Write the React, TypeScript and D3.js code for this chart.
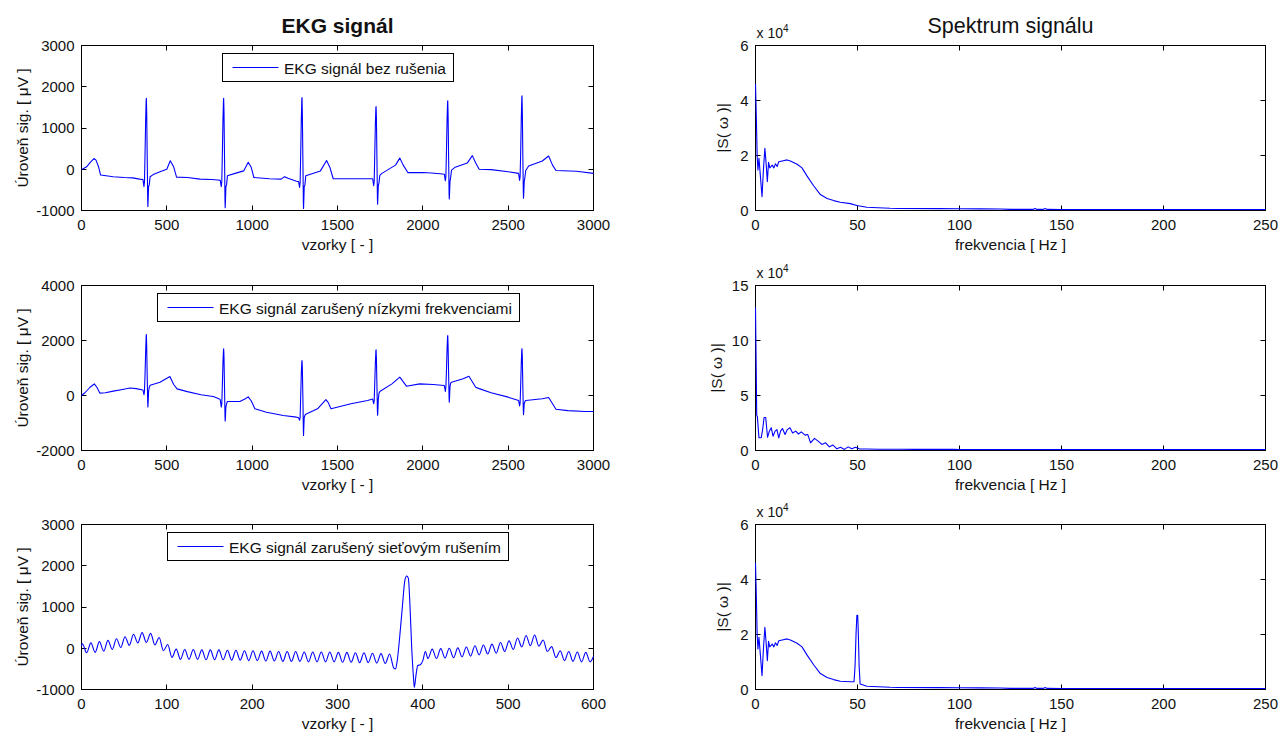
import React from 'react';
import * as d3 from 'd3';

const FONT = '"Liberation Sans", Arial, Helvetica, sans-serif';

// ---------- DATA ----------
// EKG without noise: [sample, µV]
const ekgCleanPoints: [number, number][] = [
  [0, 0], [10, 10], [30, 60], [50, 160], [73, 260], [85, 220], [100, 60], [112, -140], [186, -180], [250, -200], [300, -210], [340, -240],
  [360, -250], [366, -420], [369, -300], [372, 300], [376, 1200], [379, 1690], [380, 1720], [382, 1380], [385, 300], [388, -770], [389, -900], [391, -680], [393, -420], [397, -380], [402, -180],
  [420, -130], [460, -60], [500, 0], [520, 207], [540, 60], [557, -190], [620, -200], [695, -240], [760, -250], [800, -260], [813, -270],
  [819, -420], [822, -300], [825, 300], [829, 1200], [832, 1690], [833, 1720], [835, 1380], [838, 300], [841, -790], [842, -930], [844, -700], [846, -420], [850, -380], [855, -160],
  [900, -100], [950, -40], [977, 170], [995, 40], [1010, -200], [1100, -230], [1170, -240], [1190, -180], [1210, -220], [1260, -290], [1272, -300],
  [1278, -440], [1281, -320], [1284, 300], [1288, 1200], [1291, 1710], [1292, 1740], [1294, 1380], [1297, 300], [1300, -800], [1301, -950], [1303, -710], [1305, -420], [1309, -380], [1314, -160],
  [1400, -40], [1436, 210], [1455, 50], [1475, -230], [1600, -230], [1706, -230],
  [1712, -400], [1715, -300], [1718, 300], [1722, 1100], [1725, 1500], [1726, 1520], [1728, 1250], [1731, 300], [1734, -720], [1735, -850], [1737, -640], [1739, -400], [1743, -330], [1748, -150],
  [1760, -100], [1840, 100], [1865, 270], [1885, 100], [1913, -83], [2000, -80], [2050, -90], [2100, -110], [2126, -120],
  [2132, -280], [2135, -180], [2138, 350], [2142, 1200], [2145, 1640], [2146, 1660], [2148, 1330], [2151, 300], [2154, -600], [2155, -720], [2157, -540], [2159, -300], [2163, -200], [2168, -20],
  [2190, 50], [2260, 150], [2290, 330], [2310, 150], [2330, 0], [2400, -10], [2500, -60], [2561, -100],
  [2567, -270], [2570, -180], [2573, 350], [2577, 1250], [2580, 1750], [2581, 1780], [2583, 1420], [2586, 300], [2589, -580], [2590, -700], [2592, -520], [2594, -300], [2598, -200], [2603, -30],
  [2620, 80], [2700, 200], [2737, 321], [2760, 100], [2780, -30], [2900, -50], [3000, -100],
];

// EKG with low-frequency drift: [sample, µV]
const ekgLowFreqPoints: [number, number][] = [
  [0, 0], [20, 100], [50, 300], [75, 420], [90, 300], [108, 85], [140, 100], [186, 160], [240, 220], [284, 270], [320, 250], [360, 200],
  [366, 30], [369, 150], [372, 700], [376, 1600], [379, 2180], [380, 2220], [382, 1800], [385, 700], [388, -250], [389, -420], [391, -200], [393, 150], [397, 300], [402, 370],
  [460, 485], [518, 691], [540, 400], [560, 242], [620, 140], [700, 30], [772, -36], [805, -120], [813, -150],
  [819, -420], [822, -300], [825, 300], [829, 1200], [832, 1670], [833, 1700], [835, 1380], [838, 300], [841, -790], [842, -930], [844, -700], [846, -420], [850, -300], [855, -220],
  [928, -218], [960, -120], [977, -50], [995, -200], [1016, -484], [1084, -606], [1182, -727], [1260, -788], [1272, -810],
  [1278, -900], [1281, -800], [1284, -100], [1288, 800], [1291, 1250], [1292, 1270], [1294, 1000], [1297, 0], [1300, -1250], [1301, -1450], [1303, -1100], [1305, -800], [1309, -720], [1314, -680],
  [1383, -485], [1432, -150], [1445, -250], [1462, -485], [1579, -303], [1676, -180], [1706, -130],
  [1712, -300], [1715, -200], [1718, 400], [1722, 1200], [1725, 1640], [1726, 1660], [1728, 1350], [1731, 400], [1734, -600], [1735, -720], [1737, -500], [1739, -150], [1743, 80], [1748, 145],
  [1819, 424], [1865, 667], [1904, 339], [1982, 424], [2060, 400], [2126, 364],
  [2132, 150], [2135, 300], [2138, 800], [2142, 1700], [2145, 2150], [2146, 2180], [2148, 1800], [2151, 800], [2154, -100], [2155, -240], [2157, 0], [2159, 300], [2163, 450], [2168, 485],
  [2236, 606], [2270, 700], [2310, 303], [2330, 250], [2400, 100], [2500, -60], [2561, -180],
  [2567, -380], [2570, -280], [2573, 300], [2577, 1200], [2580, 1680], [2581, 1700], [2583, 1380], [2586, 300], [2589, -580], [2590, -700], [2592, -520], [2594, -300], [2598, -220], [2603, -180],
  [2700, -120], [2737, -70], [2760, -300], [2780, -500], [2850, -550], [2950, -580], [3000, -580],
];

// EKG with 50 Hz mains interference (first 600 samples): [sample, µV]
const ekgMainsPoints: [number, number][] = [
  [0, 60], [1, 110], [6, -110], [11, 130], [16, -100], [21, 160], [26, -70], [31, 190], [36, -30], [41, 230], [46, 20], [51, 280], [56, 70],
  [61, 340], [66, 130], [71, 380], [76, 140], [81, 360], [86, 80], [91, 260], [96, -60], [101, 90], [106, -220], [111, -20], [116, -270],
  [121, -30], [126, -270], [131, -30], [136, -270], [141, -40], [146, -280], [151, -40], [156, -280], [161, -40], [166, -280], [171, -50], [176, -290],
  [181, -50], [186, -290], [191, -60], [196, -300], [201, -60], [206, -300], [211, -70], [216, -310], [221, -70], [226, -310], [231, -80], [236, -320],
  [241, -80], [246, -320], [251, -80], [256, -320], [261, -90], [266, -330], [271, -90], [276, -330], [281, -90], [286, -330], [291, -90], [296, -330],
  [301, -100], [306, -340], [311, -100], [316, -340], [321, -110], [326, -350], [331, -110], [336, -350], [341, -120], [346, -360], [351, -130], [356, -370],
  [361, -140], [366, -480], [368, -500], [370, -300], [373, 300], [376, 1000], [379, 1650], [381, 1750], [383, 1700], [385, 1000], [387, 0], [389, -700],
  [390, -950], [392, -650], [394, -420], [397, -400], [400, -300], [403, -80], [406, -250], [411, -20], [416, -250], [421, -10], [426, -240], [431, 0],
  [436, -230], [441, 10], [446, -210], [451, 30], [456, -190], [461, 60], [466, -160], [471, 80], [476, -140], [481, 100], [486, -120], [491, 140],
  [496, -80], [501, 180], [506, -30], [511, 250], [516, 30], [521, 310], [526, 60], [531, 320], [536, 50], [541, 200], [546, -80], [551, 40],
  [556, -230], [561, -60], [566, -300], [571, -80], [576, -320], [581, -90], [586, -330], [591, -100], [596, -330], [600, -200],
];

// Spectra: [frequency Hz, |S| in units of 10^4]
const spectrumCleanPoints: [number, number][] = [
  [0, 4.6], [0.2, 4.0], [0.5, 3.1], [0.8, 2.0], [1.2, 1.47], [1.7, 1.9], [2.4, 1.25], [3.2, 0.5], [3.9, 1.5], [4.6, 2.26], [5.2, 1.72], [5.8, 1.05],
  [6.4, 1.75], [7.0, 1.55], [8.2, 1.65], [9.0, 1.55], [9.8, 1.7], [10.6, 1.6], [11.4, 1.77], [13.1, 1.8], [15.5, 1.84], [17.1, 1.8], [20.4, 1.68],
  [22.8, 1.55], [25.3, 1.25], [28.5, 0.9], [31.8, 0.58], [35.1, 0.44], [38.3, 0.36], [41.6, 0.3], [46.5, 0.25], [49.7, 0.18], [54.6, 0.12], [60, 0.1],
  [66, 0.08], [70, 0.075], [90, 0.07], [100, 0.065], [110, 0.06], [120, 0.055], [125, 0.04], [136, 0.04], [137, 0.07], [138, 0.04], [141, 0.04],
  [142, 0.07], [143, 0.04], [150, 0.035], [200, 0.035], [250, 0.035],
];

const spectrumLowFreqPoints: [number, number][] = [
  [0, 13.0], [0.3, 8.2], [0.6, 3.2], [0.9, 3.1], [1.7, 1.16], [2.8, 1.16], [3.5, 1.9], [4.2, 3.0], [5.0, 3.0], [5.9, 1.2], [6.8, 1.76], [7.7, 2.07],
  [8.6, 1.3], [9.6, 1.76], [10.5, 1.9], [11.4, 1.15], [12.3, 1.76], [13.2, 2.0], [14.5, 1.46], [15.6, 1.9], [16.9, 2.07], [18.2, 1.6], [19.7, 1.76],
  [21.1, 1.5], [22.4, 1.7], [24.3, 1.4], [25.6, 1.46], [27, 0.7], [28.9, 1.1], [30.7, 0.85], [32.5, 0.55], [34.4, 0.7], [36.2, 0.33], [38, 0.49],
  [39.9, 0.15], [41.7, 0.3], [43.6, 0.1], [45.4, 0.33], [47.2, 0.15], [49, 0.3], [50.9, 0.15], [54.6, 0.14], [60, 0.12], [71, 0.12], [78.5, 0.1],
  [97, 0.1], [100, 0.09], [250, 0.09],
];

const spectrumMainsPoints: [number, number][] = [
  [0, 4.6], [0.2, 4.0], [0.5, 3.1], [0.8, 2.0], [1.2, 1.47], [1.7, 1.9], [2.4, 1.25], [3.2, 0.5], [3.9, 1.5], [4.6, 2.26], [5.2, 1.72], [5.8, 1.05],
  [6.4, 1.75], [7.0, 1.55], [8.2, 1.65], [9.0, 1.55], [9.8, 1.7], [10.6, 1.6], [11.4, 1.77], [13.1, 1.8], [15.5, 1.84], [17.1, 1.8], [20.4, 1.68],
  [22.8, 1.55], [25.3, 1.25], [28.5, 0.9], [31.8, 0.58], [35.1, 0.44], [38.3, 0.36], [41.6, 0.3], [46.5, 0.28], [48.3, 0.28], [48.8, 0.85],
  [49.3, 2.05], [49.7, 2.7], [50.1, 2.7], [50.4, 2.05], [50.8, 0.85], [51.3, 0.2], [54.6, 0.12], [60, 0.1], [66, 0.08], [70, 0.075], [90, 0.07],
  [100, 0.065], [110, 0.06], [120, 0.055], [125, 0.04], [136, 0.04], [137, 0.07], [138, 0.04], [141, 0.04], [142, 0.07], [143, 0.04], [150, 0.035],
  [200, 0.035], [250, 0.035],
];

// Ticks
const ekgXTicks3000 = [0, 500, 1000, 1500, 2000, 2500, 3000];
const ekgXTicks600 = [0, 100, 200, 300, 400, 500, 600];
const ekgYTicksA = [-1000, 0, 1000, 2000, 3000];
const ekgYTicksB = [-2000, 0, 2000, 4000];
const freqTicks = [0, 50, 100, 150, 200, 250];
const specYTicksA = [0, 2, 4, 6];
const specYTicksB = [0, 5, 10, 15];

// Texts
const titleLeft = 'EKG signál';
const titleRight = 'Spektrum signálu';
const legendTexts = [
  'EKG signál bez rušenia',
  'EKG signál zarušený nízkymi frekvenciami',
  'EKG signál zarušený sieťovým rušením',
];
const xLabelLeft = 'vzorky [ - ]';
const xLabelRight = 'frekvencia [ Hz ]';
const yLabelLeft = 'Úroveň sig. [ μV ]';
const yLabelRight = '|S( ω )|';

// ---------- LAYOUT ----------
const W = 1279;
const H = 734;
const ROW_TOPS = [45.5, 285.5, 524.5];
const ROW_H = 165;
const COL_L = [81.5, 593.5];
const COL_R = [755.5, 1265.5];
const BLUE = '#0000ff';
const TXT = '#111';

const crisp = (v: number) => Math.round(v - 0.5) + 0.5;

let measureCtx: CanvasRenderingContext2D | null = null;
function textWidth(t: string, size: number): number {
  if (!measureCtx && typeof document !== 'undefined') {
    measureCtx = document.createElement('canvas').getContext('2d');
  }
  if (!measureCtx) return t.length * size * 0.5;
  measureCtx.font = `${size}px "Liberation Sans", Arial, sans-serif`;
  return measureCtx.measureText(t).width;
}

type PanelProps = {
  left: number;
  right: number;
  top: number;
  xDomain: [number, number];
  yDomain: [number, number];
  xTicks: number[];
  yTicks: number[];
  data: [number, number][];
  xLabel: string;
  yLabel: string;
  yLabelX: number;
  legend?: string;
  multiplier?: boolean;
  smooth?: boolean;
};

function Panel(p: PanelProps) {
  const bottom = p.top + ROW_H;
  const x = d3.scaleLinear().domain(p.xDomain).range([p.left, p.right]);
  const y = d3.scaleLinear().domain(p.yDomain).range([bottom, p.top]);
  const line = d3
    .line<[number, number]>()
    .x((d) => x(d[0]))
    .y((d) => y(d[1]));
  if (p.smooth) line.curve(d3.curveMonotoneX);
  const cx = (p.left + p.right) / 2;
  const cy = (p.top + bottom) / 2;
  const TL = 5;

  let legendEl: React.ReactNode = null;
  if (p.legend) {
    const fs = 15.5;
    const tw = textWidth(p.legend, fs);
    const bw = Math.round(tw + 69);
    const bx = Math.round(cx - bw / 2) + 0.5;
    const by = p.top + 8;
    const bh = 28;
    legendEl = (
      <g>
        <rect x={bx} y={by} width={bw} height={bh} fill="#fff" stroke="#000" strokeWidth={1} />
        <line x1={bx + 10} x2={bx + 56} y1={by + 14} y2={by + 14} stroke={BLUE} strokeWidth={1} />
        <text x={bx + 61.5} y={by + 20} fontSize={fs} fill={TXT} fontFamily={FONT}>
          {p.legend}
        </text>
      </g>
    );
  }

  return (
    <g>
      <rect x={p.left} y={p.top} width={p.right - p.left} height={ROW_H} fill="#fff" stroke="#000" strokeWidth={1} />
      {p.xTicks.map((t) => {
        const xt = crisp(x(t));
        return (
          <g key={'x' + t}>
            <line x1={xt} x2={xt} y1={bottom} y2={bottom - TL} stroke="#000" strokeWidth={1} />
            <line x1={xt} x2={xt} y1={p.top} y2={p.top + TL} stroke="#000" strokeWidth={1} />
            <text x={x(t)} y={bottom + 19.5} textAnchor="middle" fontSize={15} fill={TXT} fontFamily={FONT}>
              {String(t)}
            </text>
          </g>
        );
      })}
      {p.yTicks.map((t) => {
        const yt = crisp(y(t));
        return (
          <g key={'y' + t}>
            <line x1={p.left} x2={p.left + TL} y1={yt} y2={yt} stroke="#000" strokeWidth={1} />
            <line x1={p.right} x2={p.right - TL} y1={yt} y2={yt} stroke="#000" strokeWidth={1} />
            <text x={p.left - 7} y={y(t)} dy="0.36em" textAnchor="end" fontSize={15} fill={TXT} fontFamily={FONT}>
              {String(t)}
            </text>
          </g>
        );
      })}
      <path d={line(p.data) || ''} fill="none" stroke={BLUE} strokeWidth={1.1} strokeLinejoin="round" />
      {legendEl}
      <text x={cx} y={bottom + 39.5} textAnchor="middle" fontSize={15.5} fill={TXT} fontFamily={FONT}>
        {p.xLabel}
      </text>
      <text
        transform={`translate(${p.yLabelX},${cy}) rotate(-90)`}
        textAnchor="middle"
        fontSize={15.5}
        fill={TXT}
        fontFamily={FONT}
      >
        {p.yLabel}
      </text>
      {p.multiplier && (
        <text x={p.left + 1} y={p.top - 8} fontSize={14} fill={TXT} fontFamily={FONT}>
          x 10
          <tspan dy={-6} fontSize={10}>
            4
          </tspan>
        </text>
      )}
    </g>
  );
}

export default function App() {
  const leftCx = (COL_L[0] + COL_L[1]) / 2;
  const rightCx = (COL_R[0] + COL_R[1]) / 2;
  return (
    <svg
      width={W}
      height={H}
      viewBox={`0 0 ${W} ${H}`}
      style={{ position: 'absolute', left: 0, top: 0, background: '#fff' }}
    >
      <rect x={0} y={0} width={W} height={H} fill="#fff" />
      <text x={leftCx} y={33} textAnchor="middle" fontSize={21} fontWeight="bold" fill={TXT} fontFamily={FONT}>
        {titleLeft}
      </text>
      <text x={rightCx} y={33} textAnchor="middle" fontSize={21.5} fill={TXT} fontFamily={FONT}>
        {titleRight}
      </text>

      <Panel
        left={COL_L[0]} right={COL_L[1]} top={ROW_TOPS[0]}
        xDomain={[0, 3000]} yDomain={[-1000, 3000]}
        xTicks={ekgXTicks3000} yTicks={ekgYTicksA}
        data={ekgCleanPoints} xLabel={xLabelLeft} yLabel={yLabelLeft} yLabelX={28}
        legend={legendTexts[0]}
      />
      <Panel
        left={COL_L[0]} right={COL_L[1]} top={ROW_TOPS[1]}
        xDomain={[0, 3000]} yDomain={[-2000, 4000]}
        xTicks={ekgXTicks3000} yTicks={ekgYTicksB}
        data={ekgLowFreqPoints} xLabel={xLabelLeft} yLabel={yLabelLeft} yLabelX={28}
        legend={legendTexts[1]}
      />
      <Panel
        left={COL_L[0]} right={COL_L[1]} top={ROW_TOPS[2]}
        xDomain={[0, 600]} yDomain={[-1000, 3000]}
        xTicks={ekgXTicks600} yTicks={ekgYTicksA}
        data={ekgMainsPoints} xLabel={xLabelLeft} yLabel={yLabelLeft} yLabelX={28}
        legend={legendTexts[2]} smooth
      />

      <Panel
        left={COL_R[0]} right={COL_R[1]} top={ROW_TOPS[0]}
        xDomain={[0, 250]} yDomain={[0, 6]}
        xTicks={freqTicks} yTicks={specYTicksA}
        data={spectrumCleanPoints} xLabel={xLabelRight} yLabel={yLabelRight} yLabelX={728}
        multiplier
      />
      <Panel
        left={COL_R[0]} right={COL_R[1]} top={ROW_TOPS[1]}
        xDomain={[0, 250]} yDomain={[0, 15]}
        xTicks={freqTicks} yTicks={specYTicksB}
        data={spectrumLowFreqPoints} xLabel={xLabelRight} yLabel={yLabelRight} yLabelX={722}
        multiplier
      />
      <Panel
        left={COL_R[0]} right={COL_R[1]} top={ROW_TOPS[2]}
        xDomain={[0, 250]} yDomain={[0, 6]}
        xTicks={freqTicks} yTicks={specYTicksA}
        data={spectrumMainsPoints} xLabel={xLabelRight} yLabel={yLabelRight} yLabelX={728}
        multiplier
      />
    </svg>
  );
}
